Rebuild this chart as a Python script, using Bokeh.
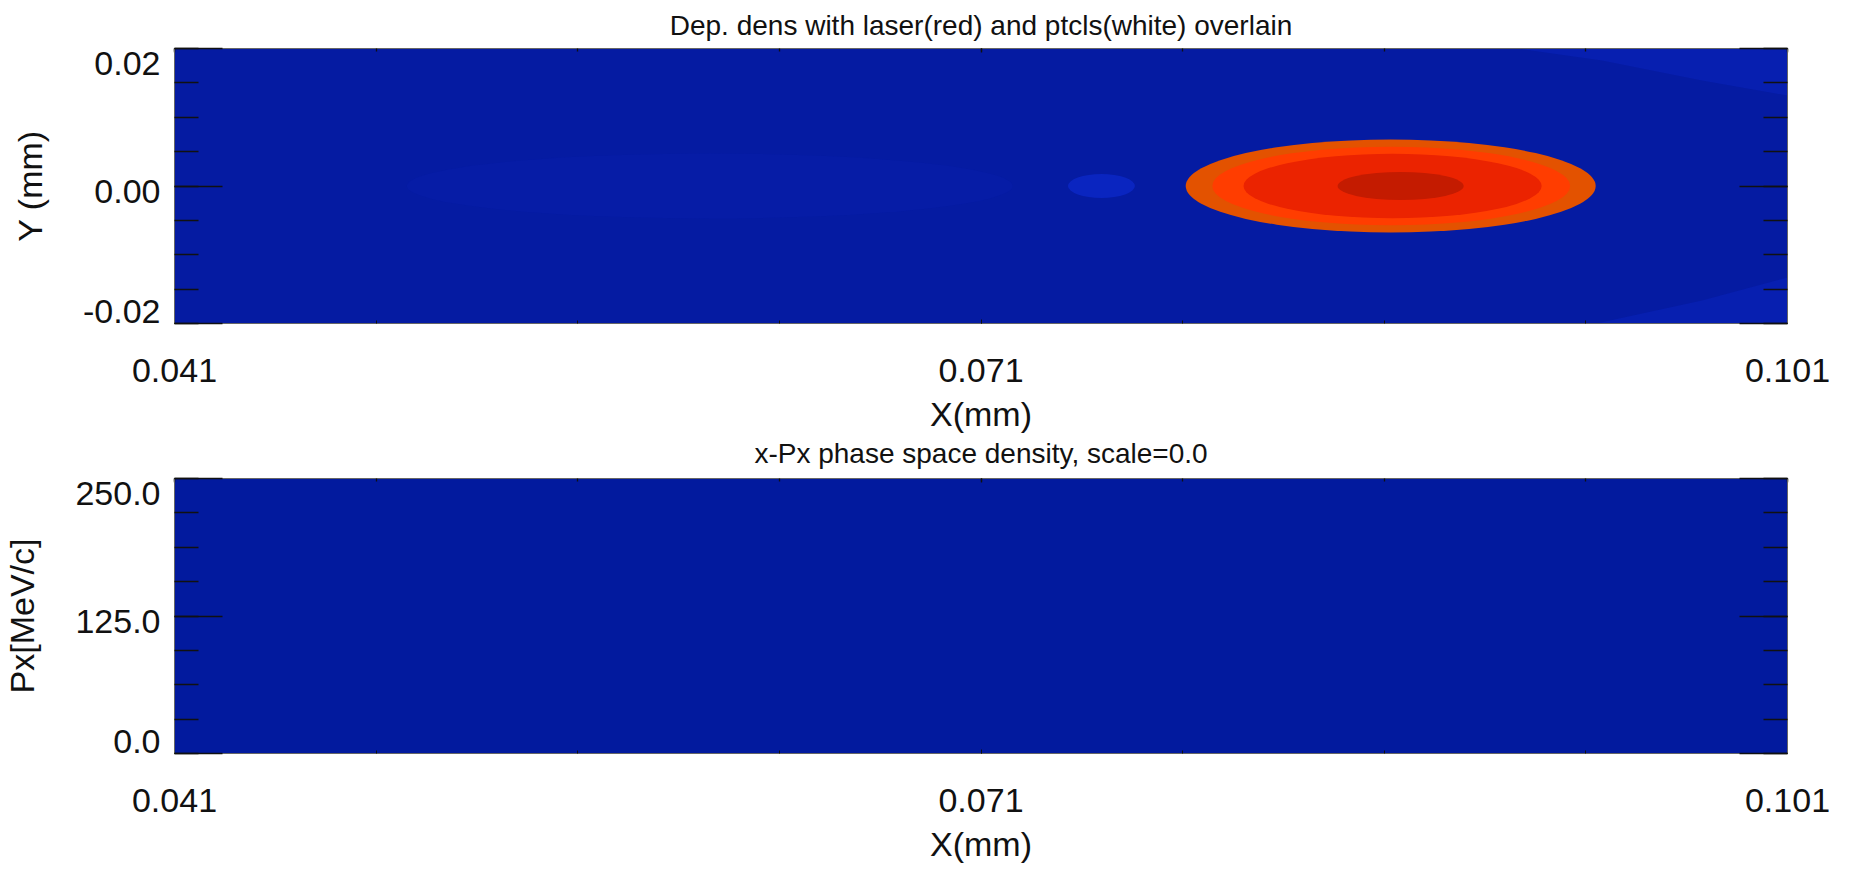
import numpy as np
from bokeh.plotting import figure
from bokeh.models import LinearAxis, FixedTicker, Range1d, CustomLabelingPolicy, Title
from bokeh.layouts import column
from bokeh.embed import file_html
from bokeh.resources import INLINE

FONT = "Liberation Sans"

# ---------------- data ----------------
x_range_mm = [0.041, 0.101]
x_tick_vals = [0.041, 0.071, 0.101]
x_tick_labels = ["0.041", "0.071", "0.101"]

y_range_mm = [-0.02, 0.02]
y_tick_vals = [-0.02, 0.0, 0.02]
y_tick_labels = ["-0.02", "0.00", "0.02"]

px_range = [0.0, 250.0]
px_tick_vals = [0.0, 125.0, 250.0]
px_tick_labels = ["0.0", "125.0", "250.0"]

# laser (red) filled contour bands, outer -> inner
laser_x = [0.08624, 0.08626, 0.08631, 0.08661]
laser_y = [0.0, 0.0, 0.0, 0.0]
laser_w = [0.01525, 0.01331, 0.01109, 0.00469]
laser_h = [0.01353, 0.01143, 0.00937, 0.00407]
laser_colors = ["#e35200", "#ff3d00", "#eb2300", "#c41b00"]

# depletion density: background level and faint lighter features
dens_bg_color = "#051ba2"
wake_x = [0.06091]
wake_y = [0.0]
wake_w = [0.02254]
wake_h = [0.00945]
wake_color = "#061ca6"
blob_x = [0.07548]
blob_y = [0.0]
blob_w = [0.00249]
blob_h = [0.00349]
blob_color = "#0a25c0"
corner_top_x = [0.09097, 0.09410, 0.09782, 0.101, 0.101]
corner_top_y = [0.02, 0.01825, 0.01535, 0.01316, 0.02]
corner_bot_x = [0.09388, 0.09782, 0.101, 0.101]
corner_bot_y = [-0.02, -0.01665, -0.01331, -0.02]
corner_color = "#071fb0"

# x-Px phase space density (empty, scale=0.0)
phase_bg_color = "#021a9e"

TITLE1 = "Dep. dens with laser(red) and ptcls(white) overlain"
TITLE2 = "x-Px phase space density, scale=0.0"

TICK_FS = "34px"
AXLAB_FS = "34px"
TITLE_FS = "28px"
FRAME_W = 1613
FRAME_H = 275

NO_LABELS = CustomLabelingPolicy(code="return []")


def minor_list(lo, hi, n):
    return list(np.linspace(lo, hi, n + 1))


def style_title(t, standoff):
    t.align = "center"
    t.text_font = FONT
    t.text_font_size = TITLE_FS
    t.text_font_style = "normal"
    t.text_color = "#111111"
    t.standoff = standoff


def make_fig(yr, y_vals, y_labels, ylabel, top, bottom):
    p = figure(frame_width=FRAME_W, frame_height=FRAME_H,
               x_range=Range1d(*x_range_mm), y_range=Range1d(*yr),
               x_axis_location=None, y_axis_location=None,
               output_backend="svg", toolbar_location=None,
               min_border_left=173, min_border_right=60,
               min_border_top=top, min_border_bottom=bottom)
    p.grid.visible = False
    p.outline_line_color = "#9a9a9a"
    p.outline_line_width = 1
    p.border_fill_color = "white"

    x_minor = minor_list(x_range_mm[0], x_range_mm[1], 8)
    y_minor = minor_list(yr[0], yr[1], 8)
    span = yr[1] - yr[0]
    upp = span / FRAME_H  # data units per pixel

    def tick_only():
        return dict(major_label_text_font_size="0px", major_label_text_color=None,
                    major_label_policy=NO_LABELS, major_label_standoff=0,
                    major_tick_out=0, minor_tick_out=0,
                    axis_line_color="#666666",
                    major_tick_line_color="#111111",
                    minor_tick_line_color="#111111",
                    major_tick_line_width=1.3, minor_tick_line_width=1.3)

    # left: tick marks (inside)
    ly = LinearAxis(ticker=FixedTicker(ticks=y_vals, minor_ticks=y_minor),
                    major_tick_in=48, minor_tick_in=24, **tick_only())
    p.add_layout(ly, "left")
    # left: labels only, IDL style (end labels kept inside the frame)
    lab_pos = [y_vals[0] + 12 * upp, y_vals[1] - 5 * upp, y_vals[2] - 15 * upp]
    lab = LinearAxis(ticker=FixedTicker(ticks=lab_pos, minor_ticks=[]),
                     major_label_overrides={v: t for v, t in zip(lab_pos, y_labels)},
                     axis_line_color=None, major_tick_line_color=None,
                     minor_tick_line_color=None, major_tick_out=0, major_tick_in=0,
                     major_label_standoff=14,
                     major_label_text_font=FONT, major_label_text_font_size=TICK_FS,
                     major_label_text_color="#111111",
                     axis_label=ylabel, axis_label_standoff=31,
                     axis_label_text_font=FONT, axis_label_text_font_size=AXLAB_FS,
                     axis_label_text_font_style="normal", axis_label_text_color="#111111")
    p.add_layout(lab, "left")
    # right: tick marks
    ry = LinearAxis(ticker=FixedTicker(ticks=y_vals, minor_ticks=y_minor),
                    major_tick_in=48, minor_tick_in=24, **tick_only())
    p.add_layout(ry, "right")
    # top: tick marks
    ax = LinearAxis(ticker=FixedTicker(ticks=x_tick_vals, minor_ticks=x_minor),
                    major_tick_in=4, minor_tick_in=3, **tick_only())
    p.add_layout(ax, "above")
    # bottom: ticks + labels
    bx = LinearAxis(ticker=FixedTicker(ticks=x_tick_vals, minor_ticks=x_minor),
                    major_label_overrides={v: t for v, t in zip(x_tick_vals, x_tick_labels)},
                    major_tick_in=4, minor_tick_in=3, major_tick_out=0, minor_tick_out=0,
                    axis_line_color="#666666", major_tick_line_color="#111111",
                    minor_tick_line_color="#111111",
                    major_label_standoff=35,
                    major_label_text_font=FONT, major_label_text_font_size=TICK_FS,
                    major_label_text_color="#111111",
                    axis_label="X(mm)", axis_label_standoff=10,
                    axis_label_text_font=FONT, axis_label_text_font_size=AXLAB_FS,
                    axis_label_text_font_style="normal", axis_label_text_color="#111111")
    p.add_layout(bx, "below")
    return p


# ---------------- top: depletion density + laser ----------------
p1 = make_fig(y_range_mm, y_tick_vals, y_tick_labels, "Y (mm)", 48, 150)
p1.title.text = TITLE1
style_title(p1.title, 15)
p1.background_fill_color = dens_bg_color
p1.ellipse(x=wake_x, y=wake_y, width=wake_w, height=wake_h,
           fill_color=wake_color, line_color=None)
p1.patch(corner_top_x, corner_top_y, fill_color=corner_color, line_color=None)
p1.patch(corner_bot_x, corner_bot_y, fill_color=corner_color, line_color=None)
p1.ellipse(x=blob_x, y=blob_y, width=blob_w, height=blob_h,
           fill_color=blob_color, line_color=None)
for i in range(len(laser_x)):
    p1.ellipse(x=[laser_x[i]], y=[laser_y[i]], width=[laser_w[i]], height=[laser_h[i]],
               fill_color=laser_colors[i], line_color=None)

# title of the lower panel, placed right under the upper panel's x-axis title
t2 = Title(text=TITLE2)
style_title(t2, 0)
p1.add_layout(t2, "below")

# ---------------- bottom: x-Px phase space ----------------
p2 = make_fig(px_range, px_tick_vals, px_tick_labels, "Px[MeV/c]", 5, 114)
p2.title = None
p2.background_fill_color = phase_bg_color

layout = column(p1, p2, spacing=0)
open("out.html", "w").write(file_html(layout, INLINE))
